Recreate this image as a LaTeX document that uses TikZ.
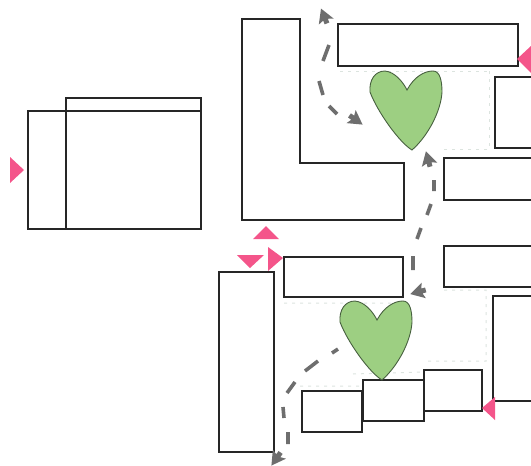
\documentclass[tikz,border=0pt]{standalone}
\usetikzlibrary{calc}
\definecolor{wallc}{HTML}{262626}
\definecolor{pinkc}{HTML}{F4558A}
\definecolor{leafc}{HTML}{9DCF82}
\definecolor{leafe}{HTML}{47603F}
\definecolor{pathc}{HTML}{6E6E6E}
\definecolor{dotc}{HTML}{DCE4DF}
\tikzset{
  x=1pt,y=-1pt,
  wall/.style={draw=wallc,line width=1.7pt,fill=white,line join=miter},
  marker/.style={fill=pinkc,draw=none},
  walkdash/.style={draw=pathc,line width=3.6pt},
  guide/.style={draw=dotc,line width=1pt,dash pattern=on 3pt off 5pt},
  walkhead/.pic={\fill[pathc] (8,0)--(-6,-8)--(-4,-2.5)--(-8,-2.5)--(-8,2.5)--(-4,2.5)--(-6,8)--cycle;},
  heart/.pic={\draw[fill=leafc,draw=leafe,line width=0.9pt]
    (37,19) .. controls (44,6) and (54,0) .. (63,0)
    .. controls (70,0) and (72,10) .. (72,21)
    .. controls (71,40) and (58,65) .. (42,79)
    .. controls (30,72) and (8,42) .. (0,21)
    .. controls (-1,9) and (5,0) .. (15,0)
    .. controls (25,1) and (33,11) .. (37,19) -- cycle;}
}
\begin{document}
\begin{tikzpicture}
\useasboundingbox (0,0) rectangle (531,466);
% faint guide lines
\draw[guide] (340,71)--(490,71) (489,71)--(489,149)--(442,149);
\draw[guide] (284,303)--(400,303) (444,290)--(486,290)--(486,361)--(425,361) (353,374)--(422,372) (300,386)--(360,386);
% left block
\draw[wall] (66,98) rectangle (201,111);
\draw[wall] (28,111) rectangle (66,229);
\draw[wall] (66,111) rectangle (201,229);
% L-shaped block
\draw[wall] (242,19)--(300,19)--(300,163)--(404,163)--(404,220)--(242,220)--cycle;
% upper row
\draw[wall] (338,24) rectangle (518,66);
\draw[wall] (531,77)--(495,77)--(495,148)--(531,148);
\draw[wall] (531,158)--(444,158)--(444,200)--(531,200);
\draw[wall] (531,246)--(444,246)--(444,287)--(531,287);
% lower row
\draw[wall] (284,257) rectangle (403,297);
\draw[wall] (219,272) rectangle (274,452);
\draw[wall] (531,296)--(493,296)--(493,401)--(531,401);
\draw[wall] (302,391) rectangle (362,432);
\draw[wall] (363,380) rectangle (424,421);
\draw[wall] (424,370) rectangle (482,411);
% hearts
\pic at (370,71) {heart};
\pic at (340,301) {heart};
% pink markers
\fill[marker] (10,157)--(24,170)--(10,183)--cycle;
\fill[marker] (531,46)--(517,59)--(531,73)--cycle;
\fill[marker] (266,226)--(279,239)--(253,239)--cycle;
\fill[marker] (237,255)--(264,255)--(250,268)--cycle;
\fill[marker] (268,247)--(283,258)--(268,271)--cycle;
\fill[marker] (495,397)--(482,408)--(495,420)--cycle;
% walking routes
\draw[walkdash] (329,45)--(323,61) (319,81)--(323,95) (329,106)--(337,114);
\pic[rotate=112] at (324,16) {walkhead};
\pic[rotate=-35] at (356,120) {walkhead};
\draw[walkdash] (434,180)--(434,191) (431,204)--(427,215) (421,228)--(417,239) (413,256)--(413,270);
\pic[rotate=105] at (428,159) {walkhead};
\pic[rotate=195] at (418,292) {walkhead};
\draw[walkdash] (338,349)--(332,353) (318,361)--(305,371) (295,382)--(287,393) (283,407)--(284,418) (288,432)--(288,444);
\pic[rotate=235] at (276,459) {walkhead};
\end{tikzpicture}
\end{document}
